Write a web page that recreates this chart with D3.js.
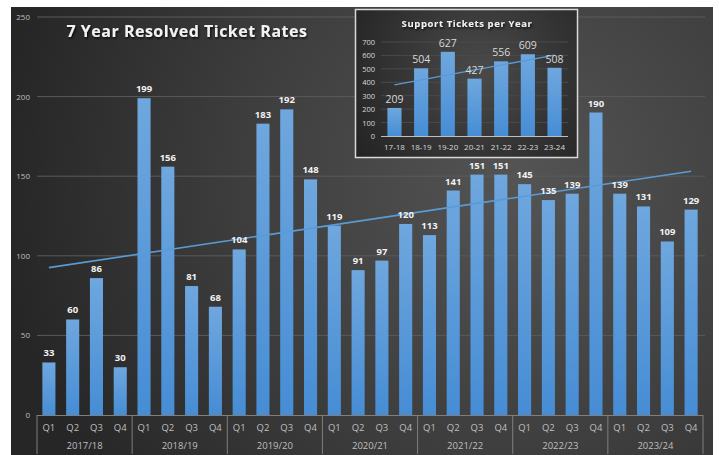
<!DOCTYPE html>
<html>
<head>
<meta charset="utf-8">
<script src="https://cdn.jsdelivr.net/npm/d3@7"></script>
<style>
    html, body { margin: 0; padding: 0; background: #ffffff; }
    svg { display: block; }
    text { font-family: "Open Sans", "Liberation Sans", sans-serif; }
</style>
</head>
<body>
<div id="chart"></div>
<script>
    // dados do grafico principal
    var anos = ["2017/18", "2018/19", "2019/20", "2020/21", "2021/22", "2022/23", "2023/24"];
    var trimestres = ["Q1", "Q2", "Q3", "Q4"];
    var resolvidos = [
        33, 60, 86, 30,
        199, 156, 81, 68,
        104, 183, 192, 148,
        119, 91, 97, 120,
        113, 141, 151, 151,
        145, 135, 139, 190,
        139, 131, 109, 129
    ];
    var yTicks = [0, 50, 100, 150, 200, 250];

    // dados do grafico interno
    var anosCurtos = ["17-18", "18-19", "19-20", "20-21", "21-22", "22-23", "23-24"];
    var ticketsAno = [209, 504, 627, 427, 556, 609, 508];
    var yTicksInset = [0, 100, 200, 300, 400, 500, 600, 700];

    var W = 719, H = 455;
    var svg = d3.select("#chart").append("svg")
        .attr("width", W)
        .attr("height", H);

    var defs = svg.append("defs");

    var bg = defs.append("radialGradient")
        .attr("id", "bgGrad")
        .attr("gradientUnits", "userSpaceOnUse")
        .attr("cx", 520).attr("cy", 180).attr("r", 520);
    bg.append("stop").attr("offset", "0%").attr("stop-color", "#545454");
    bg.append("stop").attr("offset", "55%").attr("stop-color", "#3d3d3d");
    bg.append("stop").attr("offset", "100%").attr("stop-color", "#262626");

    var bgIn = defs.append("radialGradient")
        .attr("id", "bgInset")
        .attr("gradientUnits", "userSpaceOnUse")
        .attr("cx", 480).attr("cy", 70).attr("r", 150);
    bgIn.append("stop").attr("offset", "0%").attr("stop-color", "#4a4a4a");
    bgIn.append("stop").attr("offset", "100%").attr("stop-color", "#232323");

    var barGrad = defs.append("linearGradient")
        .attr("id", "barGrad")
        .attr("x1", 0).attr("y1", 0).attr("x2", 0).attr("y2", 1);
    barGrad.append("stop").attr("offset", "0%").attr("stop-color", "#6fa7de");
    barGrad.append("stop").attr("offset", "100%").attr("stop-color", "#468dd5");

    var shadow = defs.append("filter").attr("id", "txtShadow")
        .attr("x", "-10%").attr("y", "-30%").attr("width", "120%").attr("height", "160%");
    shadow.append("feDropShadow")
        .attr("dx", 1).attr("dy", 1.5).attr("stdDeviation", 1.2)
        .attr("flood-color", "#000").attr("flood-opacity", 0.8);

    // fundo
    svg.append("rect")
        .attr("x", 11).attr("y", 7)
        .attr("width", 702).attr("height", H - 7)
        .attr("fill", "url(#bgGrad)");

    // escalas principais
    var categorias = [];
    anos.forEach(function(a) {
        trimestres.forEach(function(q) { categorias.push(a + "|" + q); });
    });

    var x = d3.scaleBand()
        .domain(categorias)
        .range([37, 703])
        .paddingInner(0.45)
        .paddingOuter(0.225);

    var y = d3.scaleLinear()
        .domain([0, 250])
        .range([415, 17]);

    // grade
    svg.append("g").selectAll("line")
        .data(yTicks.filter(function(d) { return d > 0; }))
        .enter().append("line")
        .attr("x1", 37).attr("x2", 705)
        .attr("y1", function(d) { return y(d); })
        .attr("y2", function(d) { return y(d); })
        .attr("stroke", "#5a5a5a")
        .attr("stroke-width", 1);

    svg.append("g").selectAll("text")
        .data(yTicks)
        .enter().append("text")
        .attr("x", 30)
        .attr("y", function(d) { return y(d) + 3; })
        .attr("text-anchor", "end")
        .attr("fill", "#bfbfbf")
        .attr("font-size", "8px")
        .text(function(d) { return d; });

    // barras
    svg.append("g").selectAll("rect")
        .data(resolvidos)
        .enter().append("rect")
        .attr("x", function(d, i) { return x(categorias[i]); })
        .attr("y", function(d) { return y(d); })
        .attr("width", x.bandwidth())
        .attr("height", function(d) { return y(0) - y(d); })
        .attr("fill", "url(#barGrad)");

    // linha de tendencia (minimos quadrados)
    function tendencia(vals) {
        var n = vals.length, mx = (n - 1) / 2, my = d3.mean(vals), num = 0, den = 0;
        vals.forEach(function(v, i) { num += (i - mx) * (v - my); den += (i - mx) * (i - mx); });
        var b = num / den;
        return [my - b * mx, my + b * (n - 1 - mx)];
    }

    var tMain = tendencia(resolvidos);
    var cx0 = x(categorias[0]) + x.bandwidth() / 2;
    var cx1 = x(categorias[categorias.length - 1]) + x.bandwidth() / 2;
    svg.append("line")
        .attr("x1", cx0).attr("y1", y(tMain[0]))
        .attr("x2", cx1).attr("y2", y(tMain[1]))
        .attr("stroke", "#5b9bd5")
        .attr("stroke-width", 1.6);

    // rotulos de dados
    svg.append("g").selectAll("text")
        .data(resolvidos)
        .enter().append("text")
        .attr("x", function(d, i) { return x(categorias[i]) + x.bandwidth() / 2; })
        .attr("y", function(d) { return y(d) - 6; })
        .attr("text-anchor", "middle")
        .attr("fill", "#f2f2f2")
        .attr("font-size", "9.5px")
        .attr("font-weight", "bold")
        .text(function(d) { return d; });

    // eixo x
    svg.append("line")
        .attr("x1", 37).attr("x2", 703)
        .attr("y1", 415.5).attr("y2", 415.5)
        .attr("stroke", "#7f7f7f");

    svg.append("g").selectAll("text")
        .data(categorias)
        .enter().append("text")
        .attr("x", function(d) { return x(d) + x.bandwidth() / 2; })
        .attr("y", 431)
        .attr("text-anchor", "middle")
        .attr("fill", "#bfbfbf")
        .attr("font-size", "9.5px")
        .text(function(d) { return d.split("|")[1]; });

    var anoW = (703 - 37) / anos.length;
    svg.append("g").selectAll("line")
        .data(d3.range(anos.length + 1))
        .enter().append("line")
        .attr("x1", function(i) { return 37 + i * anoW; })
        .attr("x2", function(i) { return 37 + i * anoW; })
        .attr("y1", 415).attr("y2", 454)
        .attr("stroke", "#7f7f7f");

    svg.append("g").selectAll("text")
        .data(anos)
        .enter().append("text")
        .attr("x", function(d, i) { return 37 + (i + 0.5) * anoW; })
        .attr("y", 449)
        .attr("text-anchor", "middle")
        .attr("fill", "#bfbfbf")
        .attr("font-size", "9.5px")
        .text(function(d) { return d; });

    // titulo
    svg.append("text")
        .attr("x", 187).attr("y", 37)
        .attr("text-anchor", "middle")
        .attr("fill", "#f2f2f2")
        .attr("font-size", "16px")
        .attr("font-weight", "bold")
        .attr("letter-spacing", "0.5px")
        .attr("filter", "url(#txtShadow)")
        .text("7 Year Resolved Ticket Rates");

    // ===== grafico interno =====
    var inset = svg.append("g");
    inset.append("rect")
        .attr("x", 355.5).attr("y", 9.5)
        .attr("width", 222).attr("height", 148)
        .attr("fill", "url(#bgInset)")
        .attr("stroke", "#d9d9d9")
        .attr("stroke-width", 1.5);

    var xi = d3.scaleBand()
        .domain(anosCurtos)
        .range([381, 568])
        .paddingInner(0.47)
        .paddingOuter(0.24);

    var yi = d3.scaleLinear()
        .domain([0, 700])
        .range([136, 42]);

    inset.append("g").selectAll("line")
        .data(yTicksInset.filter(function(d) { return d > 0; }))
        .enter().append("line")
        .attr("x1", 381).attr("x2", 568)
        .attr("y1", function(d) { return yi(d); })
        .attr("y2", function(d) { return yi(d); })
        .attr("stroke", "#4a4a4a");

    inset.append("g").selectAll("text")
        .data(yTicksInset)
        .enter().append("text")
        .attr("x", 375)
        .attr("y", function(d) { return yi(d) + 3; })
        .attr("text-anchor", "end")
        .attr("fill", "#d9d9d9")
        .attr("font-size", "7.5px")
        .text(function(d) { return d; });

    inset.append("g").selectAll("rect")
        .data(ticketsAno)
        .enter().append("rect")
        .attr("x", function(d, i) { return xi(anosCurtos[i]); })
        .attr("y", function(d) { return yi(d); })
        .attr("width", xi.bandwidth())
        .attr("height", function(d) { return yi(0) - yi(d); })
        .attr("fill", "url(#barGrad)");

    inset.append("line")
        .attr("x1", 381).attr("x2", 568)
        .attr("y1", 136.5).attr("y2", 136.5)
        .attr("stroke", "#bfbfbf");

    var tIn = tendencia(ticketsAno);
    inset.append("line")
        .attr("x1", xi(anosCurtos[0]) + xi.bandwidth() / 2).attr("y1", yi(tIn[0]))
        .attr("x2", xi(anosCurtos[6]) + xi.bandwidth() / 2).attr("y2", yi(tIn[1]))
        .attr("stroke", "#5b9bd5")
        .attr("stroke-width", 1.4);

    inset.append("g").selectAll("text")
        .data(ticketsAno)
        .enter().append("text")
        .attr("x", function(d, i) { return xi(anosCurtos[i]) + xi.bandwidth() / 2; })
        .attr("y", function(d) { return yi(d) - 5; })
        .attr("text-anchor", "middle")
        .attr("fill", "#d9d9d9")
        .attr("font-size", "10.5px")
        .text(function(d) { return d; });

    inset.append("g").selectAll("text")
        .data(anosCurtos)
        .enter().append("text")
        .attr("x", function(d) { return xi(d) + xi.bandwidth() / 2; })
        .attr("y", 150)
        .attr("text-anchor", "middle")
        .attr("fill", "#d9d9d9")
        .attr("font-size", "8px")
        .text(function(d) { return d; });

    inset.append("text")
        .attr("x", 467).attr("y", 27)
        .attr("text-anchor", "middle")
        .attr("fill", "#f2f2f2")
        .attr("font-size", "9.5px")
        .attr("font-weight", "bold")
        .attr("letter-spacing", "0.6px")
        .attr("filter", "url(#txtShadow)")
        .text("Support Tickets per Year");
</script>
</body>
</html>
